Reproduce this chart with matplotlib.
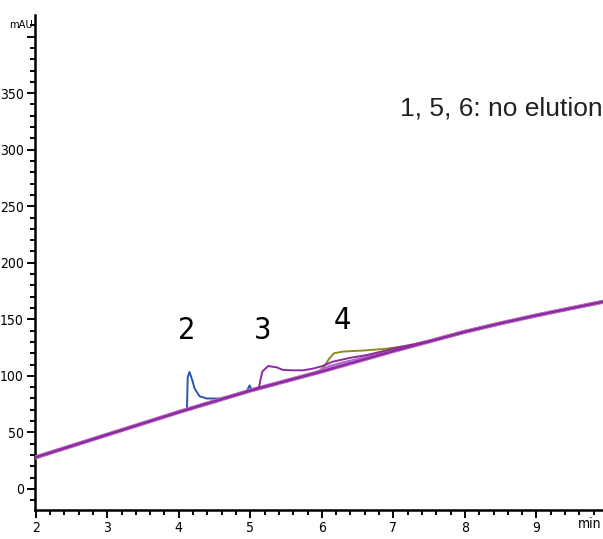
import numpy as np
import matplotlib
matplotlib.use("Agg")
import matplotlib.pyplot as plt
from matplotlib import font_manager
from matplotlib.ticker import MultipleLocator, FuncFormatter

# retention time (min) and absorbance (mAU)
base_t = [2.0, 2.5, 3.0, 3.5, 4.0, 4.5, 5.0, 5.5, 6.0, 6.5, 7.0, 7.5, 8.0, 8.5, 9.0, 9.5, 9.93]
base_v = [28, 38, 48, 58, 68, 77.5, 87, 95.5, 104, 113, 122, 130.5, 139, 146.5, 153.5, 160, 165.5]

# sample 2 (blue)
s2_t = [2.0, 3.0, 4.0, 4.1, 4.115, 4.125, 4.15, 4.19, 4.22, 4.29, 4.39, 4.57, 4.67, 4.8, 4.95, 4.99,
        5.02, 5.1]
s2_v = [28, 48, 68, 70, 71, 99, 103.5, 96, 89, 82, 80, 80, 81.5, 83.5, 86.5, 91.5, 87.5, 89]

# sample 3 (purple)
s3_t = [5.0, 5.12, 5.14, 5.17, 5.25, 5.37, 5.46, 5.6, 5.74, 5.88, 6.0, 6.15, 6.4, 6.63, 6.9, 7.09,
        7.3, 7.5]
s3_v = [87, 89.5, 96, 104, 108.7, 107.5, 105.2, 104.9, 104.9, 106.5, 108.5, 112.5, 116, 118.4,
        122.5, 125.5, 128, 130.5]

# sample 4 (olive)
s4_t = [5.9, 5.95, 6.03, 6.1, 6.17, 6.3, 6.6, 6.9, 7.1, 7.3, 7.45, 7.6]
s4_v = [102.5, 103.5, 108, 115, 120, 121.5, 122.5, 124, 125.7, 128, 130, 132]

# second purple run (slightly above baseline)
s4b_t = [5.8, 5.9, 6.1, 6.3, 6.6, 6.9, 7.1, 7.25]
s4b_v = [100.5, 103, 108.5, 112, 116.5, 121.5, 124.5, 127]

label_t = [4.11, 5.17, 6.29]
label_v = [140, 140, 149]
label_txt = ["2", "3", "4"]

# condensed face for the instrument-style labels
narrow = font_manager.FontProperties(family="DejaVu Sans", stretch="condensed")
names = {f.name for f in font_manager.fontManager.ttflist}
if "Liberation Sans Narrow" in names:
    narrow = font_manager.FontProperties(family="Liberation Sans Narrow")


def nf(size):
    p = narrow.copy()
    p.set_size(size)
    return p


fig = plt.figure(figsize=(6.03, 5.39), dpi=100)
ax = fig.add_axes([0.058, 0.054, 0.942, 0.918])

ax.plot(base_t, base_v, color="#d03030", lw=2.6, zorder=2)
ax.plot(base_t, base_v, color="#3a9a3a", lw=1.2, zorder=2)
ax.plot(s2_t, s2_v, color="#2a55b0", lw=1.4, zorder=3)
ax.plot(s4_t, s4_v, color="#8c8c1c", lw=1.4, zorder=3)
ax.plot(s4b_t, s4b_v, color="#b061c4", lw=1.4, zorder=3)
ax.plot(s3_t, s3_v, color="#8a2ca0", lw=1.4, zorder=4)
ax.plot(base_t, base_v, color="#c47ad0", lw=3.0, zorder=3)
ax.plot(base_t, base_v, color="#8a2ca0", lw=1.8, zorder=4)

for t, v, s in zip(label_t, label_v, label_txt):
    ax.text(t, v, s, ha="center", va="center", fontproperties=nf(22))

ax.text(1.0, 0.812, "1, 5, 6: no elution", transform=ax.transAxes, ha="right",
        va="center", fontsize=19, family=["Liberation Sans", "DejaVu Sans"], color="#222222")

ax.set_xlim(1.99, 9.93)
ax.set_ylim(-18.5, 419)

ax.xaxis.set_major_locator(MultipleLocator(1))
ax.xaxis.set_minor_locator(MultipleLocator(0.2))
ax.yaxis.set_major_locator(MultipleLocator(50))
ax.yaxis.set_minor_locator(MultipleLocator(10))
ax.yaxis.set_major_formatter(FuncFormatter(lambda v, p: f"{v:.0f}" if 0 <= v <= 350 else ""))

for sp in ["top", "right"]:
    ax.spines[sp].set_visible(False)
for sp in ["left", "bottom"]:
    ax.spines[sp].set_linewidth(1.8)

ax.tick_params(which="major", length=6, width=1.4, pad=2)
ax.tick_params(which="minor", length=3.5, width=1.4)
for lab in ax.get_xticklabels() + ax.get_yticklabels():
    lab.set_fontproperties(nf(10))

ax.text(-0.004, 410, "mAU", transform=ax.get_yaxis_transform(), ha="right", va="center",
        fontproperties=nf(8))
fig.text(0.998, 0.027, "min", ha="right", va="center", fontproperties=nf(10))

fig.savefig("out.png", dpi=100)
